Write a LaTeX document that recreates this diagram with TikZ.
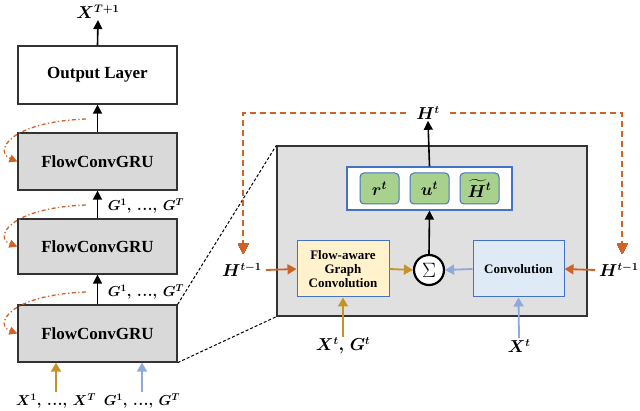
\documentclass[tikz,border=0pt]{standalone}
\usepackage{fontspec}
\setmainfont{Liberation Serif}
\usepackage{amsmath,bm}
\usetikzlibrary{arrows.meta}
\definecolor{orng}{RGB}{208,98,38}
\definecolor{gld}{RGB}{196,148,38}
\definecolor{lblue}{RGB}{142,169,219}
\definecolor{bdblue}{RGB}{68,114,196}
\definecolor{gfill}{RGB}{217,217,217}
\definecolor{bigfill}{RGB}{224,224,224}
\definecolor{grn}{RGB}{169,209,142}
\definecolor{yel}{RGB}{255,242,204}
\definecolor{cblue}{RGB}{222,235,247}
\newcommand{\mydts}{\mathord{\bm{.}\mkern1mu\bm{.}\mkern1mu\bm{.}}}
\newcommand{\myseq}[1]{\bm{#1}^{\bm{1}}\bm{,}\mkern4mu\mydts\bm{,}\mkern4mu\bm{#1}^{\bm{T}}}
\begin{document}
\begin{tikzpicture}[x=1pt,y=-1pt,
  leftbox/.style={draw=black!80,line width=1.3pt,fill=gfill,minimum width=159pt,inner sep=0pt,
    font=\fontsize{17}{20}\selectfont\bfseries},
  lbl/.style={inner sep=1pt,font=\fontsize{16}{19}\selectfont},
  slbl/.style={inner sep=1pt,font=\fontsize{14}{17}\selectfont},
  blk/.style={line width=1.6pt,-{Triangle[length=9pt,width=9pt]}},
  oarr/.style={orng,line width=1.8pt,-{Triangle[length=9pt,width=10pt]}},
  garr/.style={gld,line width=1.8pt,-{Triangle[length=9pt,width=10pt]}},
  barr/.style={lblue,line width=1.8pt,-{Triangle[length=9pt,width=10pt]}},
  odashdot/.style={orng,line width=1.3pt,dash pattern=on 4pt off 2.5pt on 1.2pt off 2.5pt,-{Triangle[length=8pt,width=8pt]}},
  odash/.style={orng,line width=1.8pt,dash pattern=on 6pt off 4pt},
  zoomline/.style={black,line width=1pt,dash pattern=on 3pt off 2pt},
  gate/.style={draw=bdblue,line width=1pt,fill=grn,rounded corners=4pt,minimum width=39pt,minimum height=31pt,inner sep=0pt,
    font=\fontsize{17}{20}\selectfont},
  inbox/.style={draw=bdblue,line width=1pt,minimum width=92pt,minimum height=56pt,inner sep=0pt,align=center,
    font=\fontsize{13}{15}\selectfont\bfseries}
]
\useasboundingbox (0,0) rectangle (640,411);

% left column
\node[leftbox,fill=white,minimum height=58pt] (out) at (97.5,75) {Output Layer};
\node[leftbox,minimum height=57pt] (b1) at (97.5,161.5) {FlowConvGRU};
\node[leftbox,minimum height=55pt] (b2) at (97.5,246.5) {FlowConvGRU};
\node[leftbox,minimum height=57pt] (b3) at (97.5,333.5) {FlowConvGRU};
\node[lbl] (xT) at (98,12) {$\bm{X}^{\bm{T+1}}$};
\draw[blk] (out.north) -- (xT.south);
\draw[blk] (b1.north) -- (out.south);
\draw[blk] (b2.north) -- (b1.south);
\draw[blk] (b3.north) -- (b2.south);
\node[slbl] (g12) at (146,206) {$\myseq{G}$};
\node[slbl] (g23) at (146,292) {$\myseq{G}$};
\node[slbl] (x1) at (56,401) {$\myseq{X}$};
\node[slbl] (g1) at (142,401) {$\myseq{G}$};
\draw[garr] (x1.north) -- (x1.north |- b3.south);
\draw[barr] (g1.north) -- (g1.north |- b3.south);

% recurrent dash-dot loops
\coordinate (s1) at (86,119);
\coordinate (s2) at (86,205);
\coordinate (s3) at (86,292);
\draw[odashdot] (s1) .. controls (8,122) and (-6,152) .. (b1.west);
\draw[odashdot] (s2) .. controls (8,208) and (-6,238) .. (b2.west);
\draw[odashdot] (s3) .. controls (8,295) and (-6,325) .. (b3.west);

% big detail box
\node[draw=black!80,line width=1.3pt,fill=bigfill,minimum width=310pt,minimum height=170pt,inner sep=0pt] (big) at (432,231) {};
\draw[zoomline] (b3.north east) -- (big.north west);
\draw[zoomline] (b3.south east) -- (big.south west);

\node[draw=bdblue,line width=1.2pt,fill=white,minimum width=165pt,minimum height=43pt,inner sep=0pt] (gates) at (429.5,188.5) {};
\node[gate] (r) at (379.5,188.5) {$\bm{r}^{\bm{t}}$};
\node[gate] (u) at (429.5,188.5) {$\bm{u}^{\bm{t}}$};
\node[gate] (h) at (479.5,188.5) {$\widetilde{\bm{H}}^{\bm{t}}$};

\node[inbox,fill=yel] (flow) at (343,269) {Flow-aware\\[-1pt]Graph\\[-1pt]Convolution};
\node[inbox,fill=cblue,minimum width=91pt] (conv) at (518.5,269) {Convolution};
\node[circle,draw=black,line width=2.2pt,fill=white,minimum size=30pt,inner sep=0pt,font=\fontsize{20}{22}\selectfont] (sig) at (429,270) {$\Sigma$};

\draw[garr] (flow.east) -- (sig.west);
\draw[barr] (conv.west) -- (sig.east);
\draw[blk] (sig.north) -- (gates.south);

\node[lbl] (Hl) at (242,270) {$\bm{H}^{\bm{t-1}}$};
\node[lbl] (Hr) at (619,270) {$\bm{H}^{\bm{t-1}}$};
\draw[oarr] (Hl.east) ++(3,0) -- (flow.west);
\draw[oarr] (Hr.west) ++(-3,0) -- (conv.east);

\node[lbl] (xg) at (343,346) {$\bm{X}^{\bm{t}}\bm{,}\,\bm{G}^{\bm{t}}$};
\node[lbl] (xt) at (519,346) {$\bm{X}^{\bm{t}}$};
\draw[garr] (xg.north) -- (flow.south);
\draw[barr] (xt.north) -- (conv.south);

\coordinate (tl) at (243,113);
\coordinate (tr) at (622,113);
\coordinate (el) at (243,246);
\coordinate (er) at (622,246);
\draw[odash] (el) -- (tl) -- (tr) -- (er);
\draw[orng,line width=0pt,fill=orng] (243,254) -- (238,244) -- (248,244) -- cycle;
\draw[orng,line width=0pt,fill=orng] (622,254) -- (617,244) -- (627,244) -- cycle;
\node[lbl,fill=white,inner xsep=6pt] (Ht) at (428,113) {$\bm{H}^{\bm{t}}$};
\draw[blk] (gates.north) -- (Ht.south);
\end{tikzpicture}
\end{document}
